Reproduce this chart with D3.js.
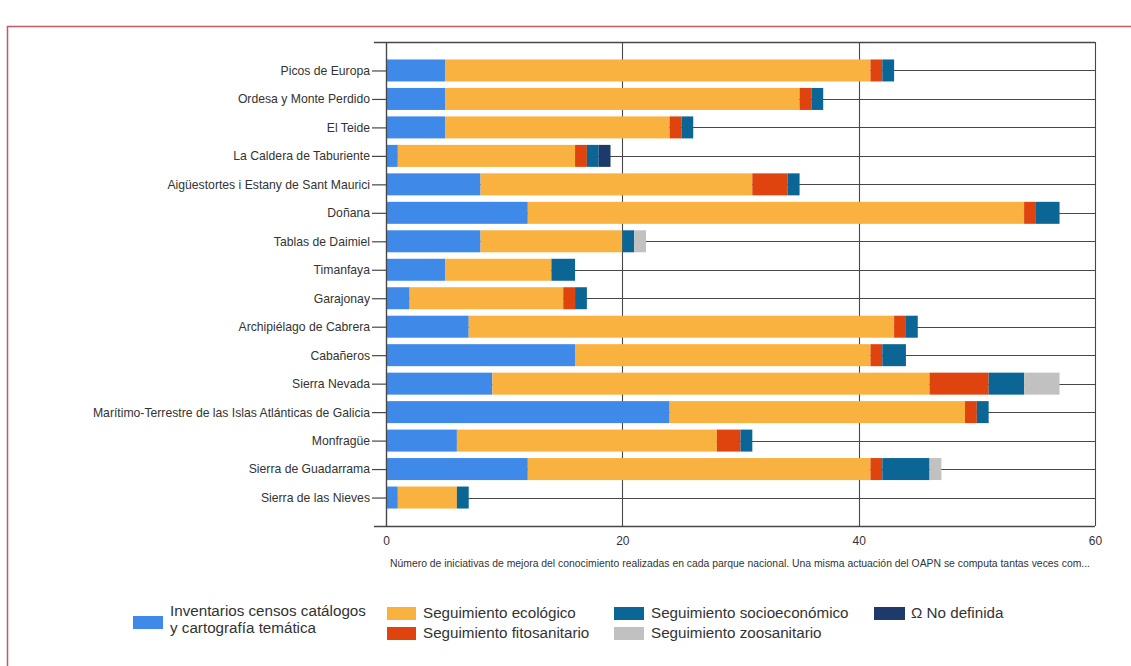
<!DOCTYPE html>
<html>
<head>
<meta charset="utf-8">
<script src="https://cdn.jsdelivr.net/npm/d3@7"></script>
<style>
  html, body { margin: 0; padding: 0; background: #fff; }
  svg { display: block; font-family: "Liberation Sans", Arial, sans-serif; }
</style>
</head>
<body>
<svg id="chart" width="1131" height="666"></svg>
<script>
const parks = ["Picos de Europa", "Ordesa y Monte Perdido", "El Teide", "La Caldera de Taburiente",
  "Aigüestortes i Estany de Sant Maurici", "Doñana", "Tablas de Daimiel", "Timanfaya", "Garajonay",
  "Archipiélago de Cabrera", "Cabañeros", "Sierra Nevada",
  "Marítimo-Terrestre de las Islas Atlánticas de Galicia", "Monfragüe", "Sierra de Guadarrama",
  "Sierra de las Nieves"];
const inventarios = [5, 5, 5, 1, 8, 12, 8, 5, 2, 7, 16, 9, 24, 6, 12, 1];
const ecologico   = [36, 30, 19, 15, 23, 42, 12, 9, 13, 36, 25, 37, 25, 22, 29, 5];
const fitosanitario = [1, 1, 1, 1, 3, 1, 0, 0, 1, 1, 1, 5, 1, 2, 1, 0];
const socioeconomico = [1, 1, 1, 1, 1, 2, 1, 2, 1, 1, 2, 3, 1, 1, 4, 1];
const zoosanitario = [0, 0, 0, 0, 0, 0, 1, 0, 0, 0, 0, 3, 0, 0, 1, 0];
const noDefinida = [0, 0, 0, 1, 0, 0, 0, 0, 0, 0, 0, 0, 0, 0, 0, 0];
const xTicks = [0, 20, 40, 60];
const seriesNames = ["Inventarios censos catálogos y cartografía temática", "Seguimiento ecológico",
  "Seguimiento fitosanitario", "Seguimiento socioeconómico", "Seguimiento zoosanitario", "Ω No definida"];
const seriesKeys = ["inv", "eco", "fito", "socio", "zoo", "nd"];
const colors = ["#3f8ae9", "#f9b13f", "#e0440e", "#0b6696", "#c1c1c1", "#1e3a6b"];
const captionText = "Número de iniciativas de mejora del conocimiento realizadas en cada parque nacional. Una misma actuación del OAPN se computa tantas veces com...";

const rows = parks.map((p, i) => ({
  park: p, inv: inventarios[i], eco: ecologico[i], fito: fitosanitario[i],
  socio: socioeconomico[i], zoo: zoosanitario[i], nd: noDefinida[i]
}));

const svg = d3.select("#chart");

// outer frame
svg.append("path")
  .attr("d", "M7.5,680 L7.5,26.5 L1140,26.5")
  .attr("fill", "none").attr("stroke", "#c25a66").attr("stroke-width", 1.5);

const pLeft = 386, pRight = 1095, pTop = 42, pBottom = 526;
const x = d3.scaleLinear().domain([0, 60]).range([pLeft, pRight]);
const y = d3.scalePoint().domain(parks).range([pTop, pBottom]).padding(1);
const barH = 22;
const lineColor = "#474747";

// horizontal gridlines at category centers
svg.append("g").selectAll("line").data(parks).join("line")
  .attr("x1", pLeft).attr("x2", pRight)
  .attr("y1", d => Math.round(y(d)) + 0.5).attr("y2", d => Math.round(y(d)) + 0.5)
  .attr("stroke", lineColor).attr("stroke-width", 1.1);

// vertical gridlines
svg.append("g").selectAll("line").data(xTicks).join("line")
  .attr("x1", d => Math.round(x(d)) + 0.5).attr("x2", d => Math.round(x(d)) + 0.5)
  .attr("y1", pTop).attr("y2", pBottom)
  .attr("stroke", lineColor).attr("stroke-width", 1.1);

// top and bottom frame lines
[pTop, pBottom].forEach(v => {
  svg.append("line").attr("x1", pLeft - 12).attr("x2", pRight)
    .attr("y1", v + 0.5).attr("y2", v + 0.5)
    .attr("stroke", lineColor).attr("stroke-width", 1.3);
});

// stacked bars
const stack = d3.stack().keys(seriesKeys);
const stacked = stack(rows);
svg.append("g").selectAll("g").data(stacked).join("g")
  .attr("fill", (d, i) => colors[i])
  .selectAll("rect").data(d => d.filter(s => s[1] > s[0])).join("rect")
  .attr("x", d => x(d[0]))
  .attr("width", d => x(d[1]) - x(d[0]))
  .attr("y", d => y(d.data.park) - barH / 2)
  .attr("height", barH);

// y axis
const yAxis = svg.append("g").attr("transform", `translate(${pLeft},0)`)
  .call(d3.axisLeft(y).tickSize(14).tickSizeOuter(0).tickPadding(2));
yAxis.select(".domain").attr("stroke", lineColor).attr("stroke-width", 1.3);
yAxis.selectAll(".tick line").attr("stroke", lineColor).attr("stroke-width", 1.2);
yAxis.selectAll("text").attr("font-size", 12.2).attr("fill", "#333")
  .attr("font-family", "'Liberation Sans', Arial, sans-serif");

// x axis tick labels
const xAxis = svg.append("g").attr("transform", `translate(0,${pBottom})`)
  .call(d3.axisBottom(x).tickValues(xTicks).tickSize(0).tickPadding(10).tickFormat(d3.format("d")));
xAxis.select(".domain").remove();
xAxis.selectAll("text").attr("font-size", 12).attr("fill", "#333")
  .attr("font-family", "'Liberation Sans', Arial, sans-serif");

// caption
svg.append("text").attr("x", 390).attr("y", 567)
  .attr("font-size", 10).attr("fill", "#333")
  .attr("textLength", 700).attr("lengthAdjust", "spacingAndGlyphs")
  .text(captionText);

// legend
const legendItems = [
  { i: 0, sx: 133, sy: 616, sw: 30, sh: 13, tx: 170, lines: ["Inventarios censos catálogos", "y cartografía temática"], ty: 616 },
  { i: 1, sx: 387, sy: 607, sw: 29, sh: 13, tx: 423, lines: ["Seguimiento ecológico"], ty: 618 },
  { i: 2, sx: 387, sy: 627, sw: 29, sh: 13, tx: 423, lines: ["Seguimiento fitosanitario"], ty: 638 },
  { i: 3, sx: 614, sy: 607, sw: 30, sh: 13, tx: 651, lines: ["Seguimiento socioeconómico"], ty: 618 },
  { i: 4, sx: 614, sy: 627, sw: 30, sh: 13, tx: 651, lines: ["Seguimiento zoosanitario"], ty: 638 },
  { i: 5, sx: 874, sy: 607, sw: 31, sh: 13, tx: 911, lines: ["Ω No definida"], ty: 618 }
];
const lg = svg.append("g");
legendItems.forEach(it => {
  lg.append("rect").attr("x", it.sx).attr("y", it.sy).attr("width", it.sw).attr("height", it.sh)
    .attr("fill", colors[it.i]);
  const t = lg.append("text").attr("x", it.tx).attr("y", it.ty)
    .attr("font-size", 15.2).attr("fill", "#333");
  it.lines.forEach((ln, k) => {
    t.append("tspan").attr("x", it.tx).attr("y", it.ty + k * 16.5).text(ln);
  });
});
</script>
</body>
</html>
